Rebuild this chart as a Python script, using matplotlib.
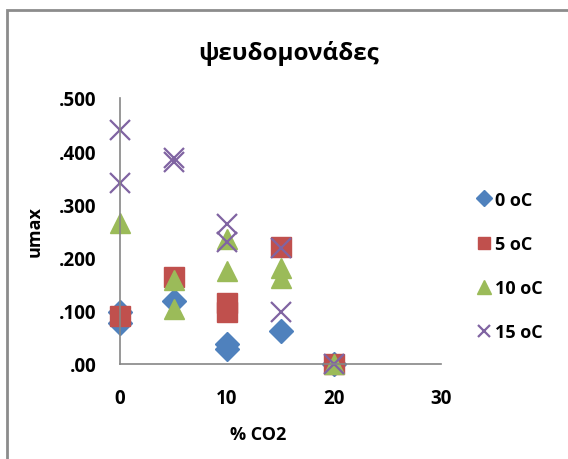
import matplotlib
matplotlib.use("Agg")
import matplotlib.pyplot as plt
from matplotlib.patches import Rectangle

# Growth rate (umax) of pseudomonads vs CO2 concentration, per storage temperature
co2_0 = [0, 0, 5, 10, 10, 15, 20]
umax_0 = [0.098, 0.078, 0.118, 0.037, 0.028, 0.062, 0.0]

co2_5 = [0, 5, 10, 10, 15, 20]
umax_5 = [0.090, 0.163, 0.115, 0.098, 0.220, 0.0]

co2_10 = [0, 5, 5, 10, 10, 15, 15, 20]
umax_10 = [0.265, 0.158, 0.103, 0.235, 0.175, 0.180, 0.162, 0.0]

co2_15 = [0, 0, 5, 5, 10, 10, 15, 15, 20]
umax_15 = [0.440, 0.340, 0.388, 0.380, 0.263, 0.230, 0.218, 0.097, 0.0]

series_labels = ["0 oC", "5 oC", "10 oC", "15 oC"]
x_ticks = [0, 10, 20, 30]
y_ticks = [0.0, 0.1, 0.2, 0.3, 0.4, 0.5]
y_tick_labels = [".00", ".100", ".200", ".300", ".400", ".500"]

title = "ψευδομονάδες"
x_label = "% CO2"
y_label = "umax"

FONT = ["Open Sans", "DejaVu Sans"]
plt.rcParams["font.family"] = FONT

fig = plt.figure(figsize=(5.68, 4.6), dpi=100)

# chart frame
fig.patches.append(Rectangle((7 / 568, -0.1), 1.2, 1 - 11 / 460 + 0.1,
                             transform=fig.transFigure, fill=False,
                             edgecolor="#8c8c8c", linewidth=2.0))

ax = fig.add_axes([120 / 568, 1 - 365 / 460, (441 - 120) / 568, (365 - 99) / 460])

ax.plot(co2_0, umax_0, linestyle="none", marker="D", markersize=12,
        color="#4F81BD", label=series_labels[0], clip_on=False)
ax.plot(co2_5, umax_5, linestyle="none", marker="s", markersize=14,
        color="#C0504D", label=series_labels[1], clip_on=False)
ax.plot(co2_10, umax_10, linestyle="none", marker="^", markersize=15,
        color="#9BBB59", label=series_labels[2], clip_on=False)
ax.plot(co2_15, umax_15, linestyle="none", marker="x", markersize=14,
        markeredgewidth=1.6, color="#8064A2", label=series_labels[3],
        clip_on=False)

ax.set_xlim(0, 30)
ax.set_ylim(0, 0.5)
ax.set_xticks(x_ticks)
ax.set_xticklabels([str(t) for t in x_ticks])
ax.set_yticks(y_ticks)
ax.set_yticklabels(y_tick_labels)
ax.tick_params(axis="y", length=0, labelsize=13.5, pad=17)
ax.tick_params(axis="x", length=0, labelsize=13.5, pad=17)
for lab in ax.get_xticklabels() + ax.get_yticklabels():
    lab.set_fontweight("bold")

for side in ("top", "right"):
    ax.spines[side].set_visible(False)
for side in ("left", "bottom"):
    ax.spines[side].set_color("#868686")
    ax.spines[side].set_linewidth(1.2)

fig.text(289 / 568, 1 - 53 / 460, title, ha="center", va="center",
         fontsize=17.5, fontweight="bold")
fig.text(258 / 568, 1 - 435 / 460, x_label, ha="center", va="center",
         fontsize=13, fontweight="bold")
fig.text(35 / 568, 1 - 232 / 460, y_label, ha="center", va="center",
         rotation=90, fontsize=13, fontweight="bold")

leg = fig.legend(loc="center left", bbox_to_anchor=(459 / 568, 1 - 267 / 460),
                 frameon=False, prop={"weight": "bold", "size": 13},
                 handletextpad=0.1, labelspacing=1.45, handlelength=1.0,
                 markerscale=0.65)

fig.savefig("out.png", dpi=100)
